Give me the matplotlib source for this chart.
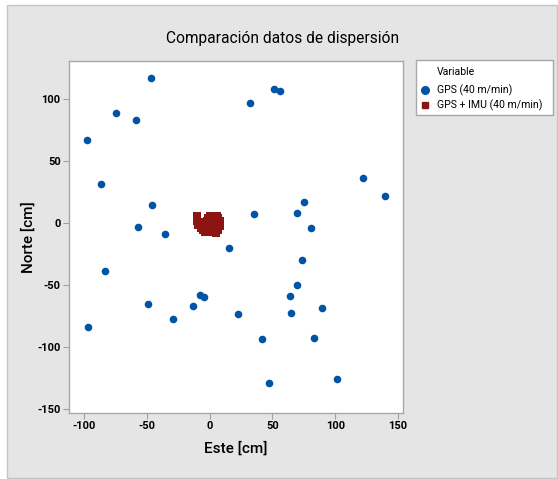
import matplotlib
matplotlib.use("Agg")
import matplotlib.pyplot as plt
from matplotlib.patches import Rectangle
from matplotlib.lines import Line2D

# GPS (40 m/min) - east / north offsets in cm
gps_este = [-46.5, -74.2, -58.7, -97.9, -86.4, -45.7, -57.2, -35.6,
            32.2, 51.4, 55.9, 122.2, 140.0, 75.1, 35.4, 69.8, 80.7,
            15.2, -83.3, -49.4, -29.5, -13.5, -7.4, -4.7, -97.1,
            73.8, 69.2, 64.4, 65.2, 89.7, 22.9, 42.1, 82.8, 46.9, 101.5]
gps_norte = [117.0, 88.7, 83.8, 67.6, 31.4, 15.2, -2.7, -8.9,
             97.0, 108.1, 107.0, 36.5, 22.4, 17.3, 7.3, 8.1, -3.7,
             -19.9, -38.1, -65.3, -77.5, -66.4, -58.0, -59.4, -83.5,
             -29.4, -50.0, -59.0, -72.2, -68.0, -73.0, -93.5, -92.4, -129.0, -125.4]

# GPS + IMU (40 m/min)
imu_este = [-10, -10, -9, -7, -7, -5, -4, -3, -2, -1, 0, 1, 2, 2, 3,
            4, 4, 5, 6, 6, 7, 7, 8, 8, 0, -4, 3, 5, -1]
imu_norte = [6, 2, -1, 0, -4, -5, -7, -2, 2, 4, 6, 3, -1, -6, -7,
             6, 2, -3, 6, 0, 4, -5, -2, 2, -4, 1, 1, -8, -7]

x_ticks = [-100, -50, 0, 50, 100, 150]
y_ticks = [-150, -100, -50, 0, 50, 100]

azul = "#0054a6"
rojo = "#8e1414"
W, H = 558, 479

fig = plt.figure(figsize=(W / 100, H / 100), dpi=100)
fig.patch.set_facecolor("white")

# grey panel behind everything
fig.patches.append(Rectangle((7 / W, 1 / H), (W - 8) / W, (H - 6) / H,
                             transform=fig.transFigure, facecolor="#e5e5e5",
                             edgecolor="#c4c4c4", linewidth=1, zorder=-10))

ax = fig.add_axes([69 / W, 1 - 413 / H, 334 / W, 352 / H])
ax.scatter(gps_este, gps_norte, s=30, color=azul, marker="o", linewidths=0, zorder=3)
ax.scatter(imu_este, imu_norte, s=26, color=rojo, marker="s", linewidths=0, zorder=3)

ax.set_xlim(-112, 154)
ax.set_ylim(-153, 131)
ax.set_xticks(x_ticks)
ax.set_yticks(y_ticks)

fam = ["Roboto", "DejaVu Sans"]
tick_font = dict(family=fam, weight="bold", size=8)
ax.set_xticklabels([str(t) for t in x_ticks], **tick_font)
ax.set_yticklabels([str(t) for t in y_ticks], **tick_font)
ax.tick_params(direction="out", length=4, width=0.8, color="#a0a0a0", pad=2)
for sp in ax.spines.values():
    sp.set_color("#a8a8a8")
    sp.set_linewidth(1)

lab_font = dict(family=fam, weight="medium", size=11)
ax.set_xlabel("Este [cm]", labelpad=7, **lab_font)
ax.set_ylabel("Norte [cm]", labelpad=1, **lab_font)

fig.text(283 / W, 1 - 38 / H, "Comparación datos de dispersión", ha="center", va="center",
         family=fam, size=11.2)

# legend box, drawn by hand to match the Minitab layout
fig.patches.append(Rectangle((416 / W, 1 - 115 / H), 137 / W, 55 / H,
                             transform=fig.transFigure, facecolor="white",
                             edgecolor="#a8a8a8", linewidth=1, zorder=1))
leg_font = dict(family=fam, size=7.6)
fig.text(437 / W, 1 - 72 / H, "Variable", va="center", **leg_font)
fig.lines.append(Line2D([425 / W], [1 - 90 / H], transform=fig.transFigure, marker="o",
                        markersize=5.5, color=azul, linestyle="none", zorder=2))
fig.text(437 / W, 1 - 90 / H, "GPS (40 m/min)", va="center", **leg_font)
fig.lines.append(Line2D([425 / W], [1 - 105 / H], transform=fig.transFigure, marker="s",
                        markersize=5, color=rojo, linestyle="none", zorder=2))
fig.text(437 / W, 1 - 105 / H, "GPS + IMU (40 m/min)", va="center", **leg_font)

fig.savefig("out.png", dpi=100)
